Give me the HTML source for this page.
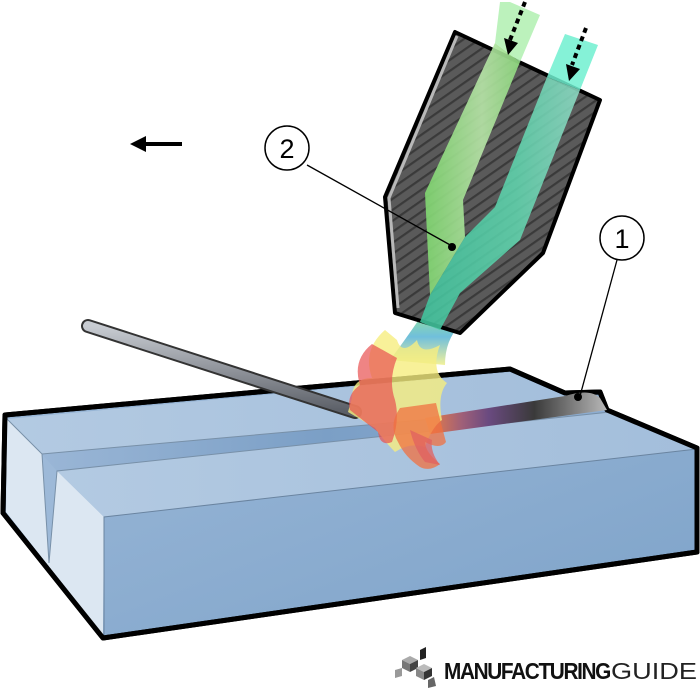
<!DOCTYPE html>
<html><head><meta charset="utf-8"><style>
html,body{margin:0;padding:0;background:#fff;width:700px;height:691px;overflow:hidden}
svg{display:block}
</style></head><body>
<svg width="700" height="691" viewBox="0 0 700 691" xmlns="http://www.w3.org/2000/svg">
<defs>
<linearGradient id="front" x1="0" y1="0" x2="1" y2="1">
<stop offset="0" stop-color="#9bb8d8"/><stop offset="1" stop-color="#7ea3c9"/></linearGradient>
<linearGradient id="top" x1="0" y1="0" x2="1" y2="0">
<stop offset="0" stop-color="#b3cae2"/><stop offset="1" stop-color="#a3bedb"/></linearGradient>
<linearGradient id="groove" x1="0" y1="0" x2="1" y2="0">
<stop offset="0" stop-color="#9ab6d6"/><stop offset="0.5" stop-color="#7b9fc6"/><stop offset="1" stop-color="#8eaed2"/></linearGradient>
<linearGradient id="bead" x1="0" y1="0" x2="1" y2="0">
<stop offset="0" stop-color="#f08040"/><stop offset="0.2" stop-color="#a06078"/><stop offset="0.35" stop-color="#6a4a80"/><stop offset="0.6" stop-color="#3a3a3a"/><stop offset="1" stop-color="#b8b8b8"/></linearGradient>
<linearGradient id="rod" x1="0" y1="0" x2="0" y2="1">
<stop offset="0" stop-color="#c8ccd2"/><stop offset="1" stop-color="#5a5e66"/></linearGradient>
<pattern id="hatch" width="9" height="9" patternUnits="userSpaceOnUse" patternTransform="rotate(-35)">
<rect width="9" height="9" fill="#5a5a5a"/><rect width="9" height="2.2" fill="#3a3a3a"/></pattern>
<linearGradient id="gl" x1="0" y1="0" x2="1" y2="0">
<stop offset="0" stop-color="#80d870"/><stop offset="0.6" stop-color="#b8e6a8"/><stop offset="1" stop-color="#90dc80"/></linearGradient>
<linearGradient id="gr" x1="0" y1="0" x2="1" y2="0">
<stop offset="0" stop-color="#40c8a0"/><stop offset="0.6" stop-color="#60d8b0"/><stop offset="1" stop-color="#90e0c8"/></linearGradient>
<linearGradient id="plume" x1="0" y1="0" x2="0" y2="1">
<stop offset="0" stop-color="#80d8a0"/><stop offset="0.4" stop-color="#60b8d8"/><stop offset="1" stop-color="#f0f090"/></linearGradient>
</defs>

<polygon points="5,415 510,369 565,393 600,392 607,410 697,448 697,552 103,638 3,513" fill="url(#front)" stroke="#000" stroke-width="5" stroke-linejoin="round"/>
<polygon points="7,419 510,372 565,396 607,412 590,405 42,454" fill="url(#top)"/>
<polygon points="42,454 590,405 610,412 57,471" fill="url(#groove)"/>
<polygon points="42,454 57,471 49,563" fill="#9db9d8"/>
<polygon points="57,471 610,412 697,449 104,517" fill="url(#top)"/>
<polygon points="7,419 42,454 49,563 57,471 104,517 103,635 6,512" fill="#dce7f2"/>
<polyline points="7,419 42,454 590,405" fill="none" stroke="#7890a8" stroke-width="1"/>
<polyline points="42,454 49,563 57,471 610,412" fill="none" stroke="#7890a8" stroke-width="1"/>
<polyline points="104,635 104,517 697,449" fill="none" stroke="#6a84a0" stroke-width="1"/>
<polygon points="5,415 510,369 565,393 600,392 607,410 697,448 697,552 103,638 3,513" fill="none" stroke="#000" stroke-width="5" stroke-linejoin="round"/>

<!-- bead -->
<path d="M425,418 L565,396 Q590,388 600,398 L607,410 L430,434 Z" fill="url(#bead)"/>

<line x1="88" y1="326" x2="355" y2="412" stroke="#333" stroke-width="14" stroke-linecap="round"/>
<line x1="88" y1="326" x2="355" y2="412" stroke="url(#rod)" stroke-width="10" stroke-linecap="round"/>

<path d="M420,318 Q405,340 390,360 L445,365 Q445,340 460,325 Z" fill="url(#plume)" opacity="0.9"/>

<path d="M385,330 Q362,350 372,378 Q352,378 352,398 L348,412 Q365,422 375,428 Q385,442 395,452 Q410,442 425,447 Q432,427 442,420 Q437,395 447,383 Q430,372 440,345 Q420,356 417,340 Q402,356 397,340 Z" fill="#f6ee80" opacity="0.8"/>
<path d="M372,344 Q352,360 360,385 Q346,395 350,410 Q365,422 378,432 Q380,447 392,442 Q400,420 395,400 Q388,380 397,358 Z" fill="#e85050" opacity="0.7"/>
<path d="M400,408 Q388,425 398,442 Q405,457 420,467 Q430,472 440,464 Q425,452 425,442 Q440,450 446,442 Q440,420 436,403 Z" fill="#f07040" opacity="0.75"/>
<path d="M410,430 Q415,450 425,462 L440,465 Q430,452 432,440 Z" fill="#e06060" opacity="0.75"/>

<polygon points="455,32 600,100 543,253 460,333 395,313 385,197" fill="url(#hatch)" stroke="#000" stroke-width="4" stroke-linejoin="round"/>
<polyline points="457,36 389,198 398,308" fill="none" stroke="#b8b8b8" stroke-width="3"/>
<polygon points="495,43 520,62 463,200 465,237 430,295 425,193" fill="url(#gl)" opacity="0.9"/>
<polygon points="547,77 580,90 520,240 460,293 440,330 420,322 430,295 465,237 495,207" fill="url(#gr)" opacity="0.85"/>
<polygon points="495,43 520,62 540,15 510,2 500,2" fill="#b0f0b0" opacity="0.85"/>
<polygon points="547,77 580,90 598,45 565,34" fill="#70f0d0" opacity="0.85"/>
<line x1="525" y1="2" x2="510" y2="40" stroke="#000" stroke-width="4" stroke-dasharray="5,4"/>
<polygon points="504,38 518,43 508,55" fill="#000"/>
<line x1="586" y1="28" x2="572" y2="65" stroke="#000" stroke-width="4" stroke-dasharray="5,4"/>
<polygon points="566,64 580,69 569,81" fill="#000"/>

<line x1="307" y1="165" x2="452" y2="246" stroke="#000" stroke-width="1.3"/>
<circle cx="452" cy="247" r="4" fill="#000"/>
<circle cx="287" cy="148" r="22" fill="#fff" stroke="#000" stroke-width="1.5"/>
<text x="287" y="158" font-family="Liberation Sans, sans-serif" font-size="27" text-anchor="middle">2</text>
<line x1="617" y1="260" x2="580" y2="396" stroke="#000" stroke-width="1.3"/>
<circle cx="578" cy="397" r="4" fill="#000"/>
<circle cx="622" cy="238" r="22" fill="#fff" stroke="#000" stroke-width="1.5"/>
<text x="622" y="248" font-family="Liberation Sans, sans-serif" font-size="27" text-anchor="middle">1</text>

<line x1="142" y1="144" x2="182" y2="144" stroke="#000" stroke-width="4"/>
<polygon points="130,144 146,136 146,152" fill="#000"/>

<g transform="translate(392,650)">
<polygon points="10,10 18,6 26,10 18,14" fill="#aaa"/>
<polygon points="10,10 18,14 18,22 10,18" fill="#777"/>
<polygon points="18,14 26,10 26,18 18,22" fill="#444"/>
<polygon points="24,18 32,14 40,18 32,22" fill="#bbb"/>
<polygon points="24,18 32,22 32,30 24,26" fill="#888"/>
<polygon points="32,22 40,18 40,26 32,30" fill="#333"/>
<polygon points="3,20 10,18 10,26 3,28" fill="#999"/>
<polygon points="28,0 34,-3 34,8 28,10" fill="#222"/>
<polygon points="36,30 42,27 44,36 36,38" fill="#666"/>
</g>
<text x="444" y="679" font-family="Liberation Sans, sans-serif" font-size="23" font-weight="bold" letter-spacing="-1.5" fill="#111" textLength="166" lengthAdjust="spacingAndGlyphs">MANUFACTURING</text>
<text x="611" y="679" font-family="Liberation Sans, sans-serif" font-size="23" fill="#222" textLength="86" lengthAdjust="spacingAndGlyphs">GUIDE</text>
</svg>
</body></html>
